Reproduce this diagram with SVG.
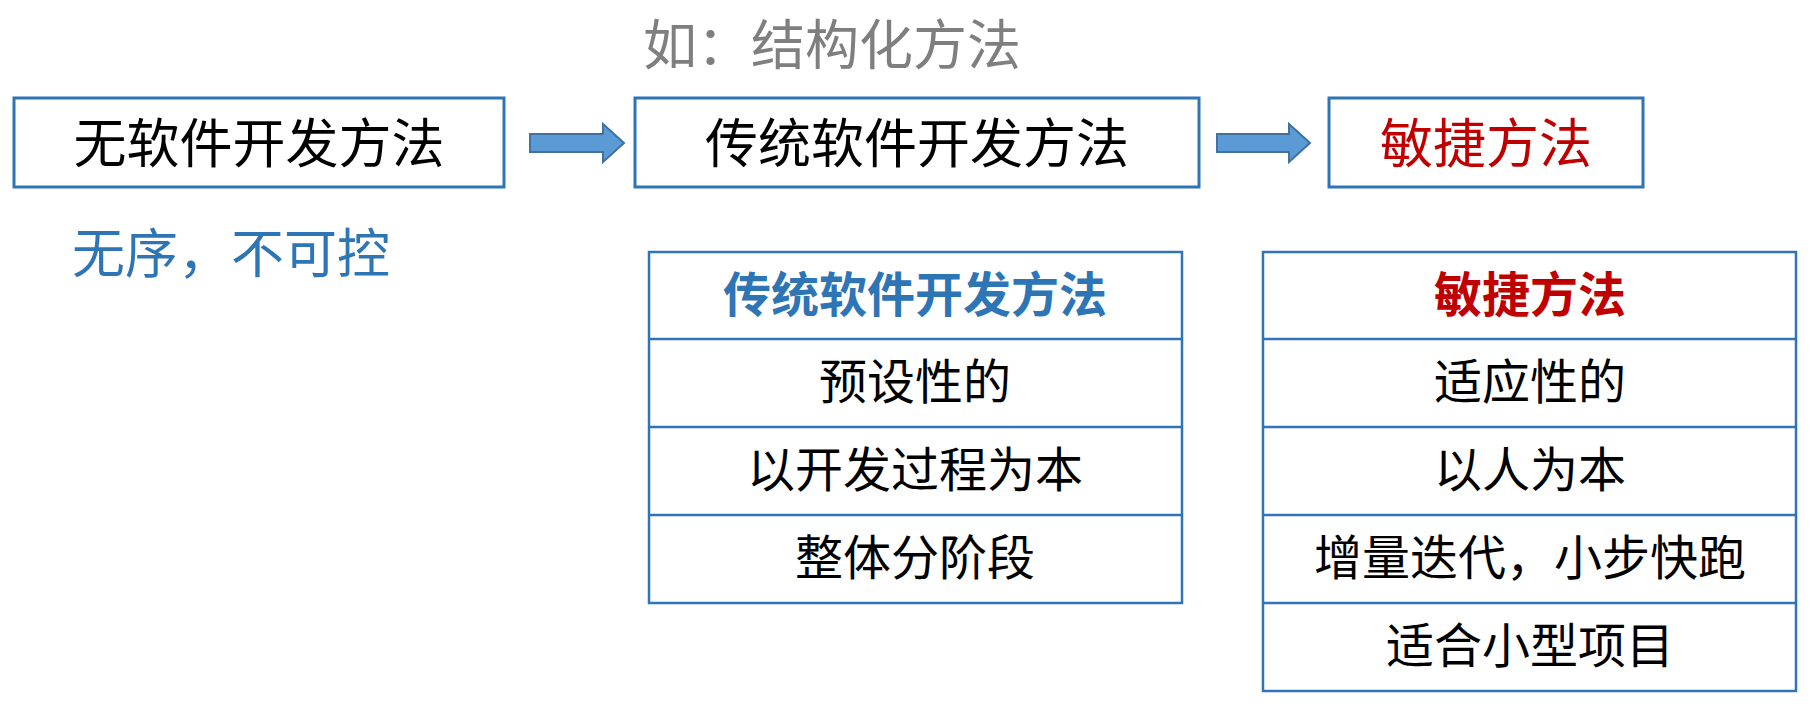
<svg xmlns="http://www.w3.org/2000/svg" width="1814" height="706" viewBox="0 0 1814 706">
<style>
.t{font-family:"Noto Sans CJK SC","Noto Sans",sans-serif;text-anchor:middle;dominant-baseline:central}
.box{fill:#fff;stroke:#2E75B6;stroke-width:3}
.tbl{fill:#fff;stroke:#2E75B6;stroke-width:2.5}
.ln{stroke:#2E75B6;stroke-width:2.5}
.big{font-size:53px;fill:#000}
.row{font-size:48px;fill:#000}
.arrow{fill:#5B9BD5;stroke:#41719C;stroke-width:2}
</style>
<rect width="1814" height="706" fill="#fff"/>
<g id="note">
<text class="t" x="832" y="41" style="font-size:54px;fill:#7F7F7F">如：结构化方法</text>
</g>
<g id="node-none">
<rect class="box" x="14" y="98" width="490" height="89"/>
<text class="t big" x="259" y="140">无软件开发方法</text>
<text class="t" x="72" y="250" style="font-size:53px;fill:#2E75B6;text-anchor:start">无序，不可控</text>
</g>
<g id="node-traditional">
<rect class="box" x="635" y="98" width="564" height="89"/>
<text class="t big" x="917" y="140">传统软件开发方法</text>
</g>
<g id="node-agile">
<rect class="box" x="1329" y="98" width="314" height="89"/>
<text class="t big" x="1486" y="140" style="fill:#C00000">敏捷方法</text>
</g>
<g id="connectors">
<path class="arrow" d="M530,134 H603 V124 L624,143 L603,162 V152 H530 Z"/>
<path class="arrow" d="M1217,134 H1289 V124 L1310,143 L1289,162 V152 H1217 Z"/>
</g>
<g id="table-traditional">
<rect class="tbl" x="649" y="252" width="533" height="351"/>
<line class="ln" x1="649" y1="339" x2="1182" y2="339"/>
<line class="ln" x1="649" y1="427" x2="1182" y2="427"/>
<line class="ln" x1="649" y1="515" x2="1182" y2="515"/>
<text class="t row" x="915" y="291" style="fill:#2E75B6;font-weight:bold">传统软件开发方法</text>
<text class="t row" x="915" y="378">预设性的</text>
<text class="t row" x="915" y="466">以开发过程为本</text>
<text class="t row" x="915" y="554">整体分阶段</text>
</g>
<g id="table-agile">
<rect class="tbl" x="1263" y="252" width="533" height="439"/>
<line class="ln" x1="1263" y1="339" x2="1796" y2="339"/>
<line class="ln" x1="1263" y1="427" x2="1796" y2="427"/>
<line class="ln" x1="1263" y1="515" x2="1796" y2="515"/>
<line class="ln" x1="1263" y1="603" x2="1796" y2="603"/>
<text class="t row" x="1530" y="291" style="fill:#C00000;font-weight:bold">敏捷方法</text>
<text class="t row" x="1530" y="378">适应性的</text>
<text class="t row" x="1530" y="466">以人为本</text>
<text class="t row" x="1530" y="554">增量迭代，小步快跑</text>
<text class="t row" x="1530" y="642">适合小型项目</text>
</g>
</svg>
